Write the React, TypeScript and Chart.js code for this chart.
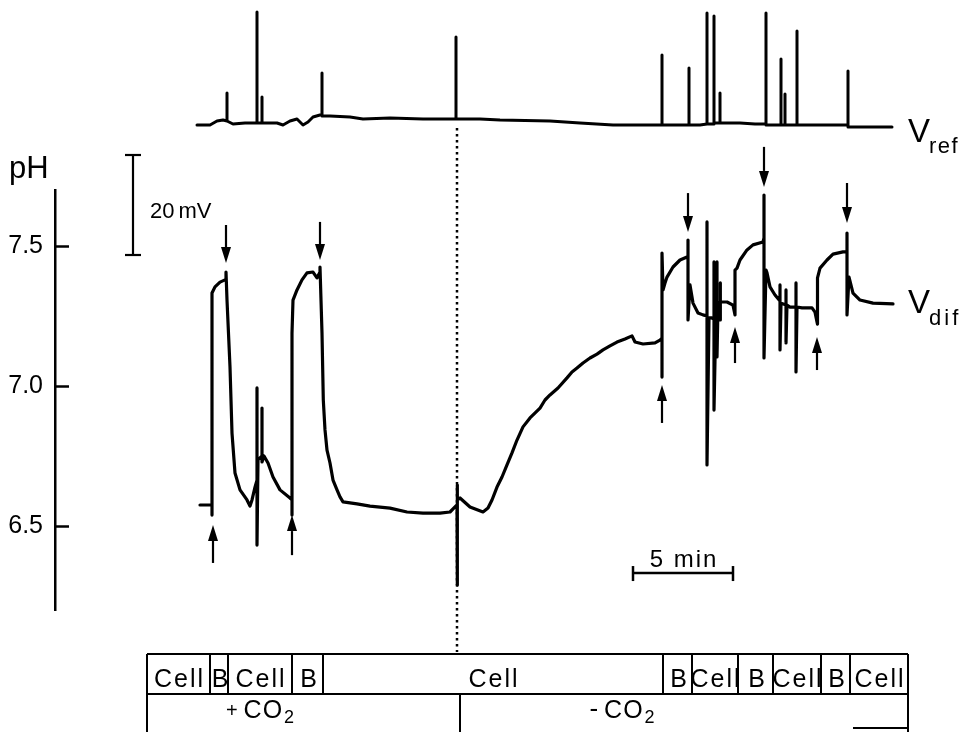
import React, { useEffect, useRef } from "react";
import { Chart, registerables } from "chart.js";

Chart.register(...registerables);

// ---- V_dif trace: time (min from start of record) and pH ----
const difTime = [
  0, 0.6, 0.6, 0.6, 0.75, 1, 1.25, 1.3, 1.3,
  1.35, 1.5, 1.6, 1.75, 2, 2.35, 2.5, 2.6, 2.75, 2.85, 2.85, 2.85, 2.9, 3.1, 3.1, 3.1, 3.2, 3.4, 3.65, 4, 4.5, 4.6,
  4.6, 4.6, 4.65, 4.85, 5.1, 5.35, 5.65, 5.85, 6, 6,
  6.1, 6.165, 6.25, 6.35, 6.5, 6.65, 6.85, 7.0, 7.15, 7.85, 8.5, 9.5, 10.35, 11.15, 12, 12.5, 12.75, 12.85, 12.85, 12.85, 12.9, 13,
  13.5, 14.15, 14.4, 14.6, 14.85, 15.1, 15.35, 15.6, 15.85, 16.15, 16.5, 17, 17.25, 17.5, 17.9, 18.35, 18.6, 18.85, 19.15, 19.5,
  19.85, 20.15, 20.5, 20.85, 21.25, 21.6, 21.75, 22.15, 22.75, 23, 23.1,
  23.1, 23.1, 23.15, 23.25, 23.35, 23.65, 24, 24.35, 24.4, 24.4, 24.4,
  24.5, 24.65, 24.9, 25.15, 25.35, 25.35, 25.35, 25.45, 25.6, 25.7, 25.7, 25.7, 25.8, 25.85, 25.85, 25.85, 25.9, 26, 26, 26, 26.05, 26.35, 26.65, 26.75,
  26.75, 26.85, 27, 27.35, 27.65, 28.15, 28.2, 28.2, 28.2,
  28.3, 28.35, 28.5, 28.75, 29, 29, 29, 29.05, 29.3, 29.3, 29.3, 29.35, 29.5, 29.8, 29.8, 29.8, 29.85, 30.1, 30.6, 30.75, 30.85,
  30.85, 30.9, 31, 31.35, 31.65, 32.15, 32.35, 32.35, 32.35, 32.45, 32.65, 33, 33.65, 34.65,
];
const difPH = [
  6.575, 6.575, 6.539, 7.332, 7.354, 7.371, 7.379, 7.379, 7.407,
  7.307, 7.068, 6.832, 6.689, 6.629, 6.593, 6.571, 6.593, 6.639, 6.664, 6.993, 6.432, 6.736, 6.75, 6.921, 6.729, 6.75, 6.725, 6.675, 6.629, 6.6, 6.593,
  6.539, 7.189, 7.307, 7.343, 7.379, 7.404, 7.407, 7.386, 7.407, 7.425,
  7.189, 6.95, 6.843, 6.771, 6.725, 6.664, 6.629, 6.604, 6.586, 6.579, 6.571, 6.564, 6.55, 6.546, 6.546, 6.55, 6.568, 6.575, 6.646, 6.289, 6.593, 6.6,
  6.568, 6.55, 6.564, 6.593, 6.639, 6.675, 6.718, 6.761, 6.807, 6.854, 6.886, 6.921, 6.95, 6.968, 6.993, 7.029, 7.05, 7.064, 7.082, 7.1,
  7.114, 7.129, 7.143, 7.157, 7.168, 7.179, 7.157, 7.15, 7.154, 7.164, 7.171,
  7.032, 7.475, 7.343, 7.368, 7.389, 7.425, 7.45, 7.461, 7.461, 7.521, 7.236,
  7.361, 7.296, 7.261, 7.254, 7.25, 7.586, 6.718, 7.243, 7.243, 7.236, 7.443, 6.914, 7.271, 7.279, 7.443, 7.104, 7.289, 7.3, 7.368, 7.236, 7.3, 7.3, 7.289, 7.254,
  7.414, 7.421, 7.45, 7.486, 7.504, 7.514, 7.529, 7.682, 7.1,
  7.414, 7.404, 7.354, 7.325, 7.304, 7.361, 7.129, 7.296, 7.289, 7.343, 7.154, 7.289, 7.282, 7.282, 7.368, 7.05, 7.282, 7.279, 7.279, 7.264, 7.229,
  7.221, 7.386, 7.421, 7.45, 7.471, 7.479, 7.479, 7.546, 7.254, 7.389, 7.332, 7.307, 7.296, 7.293,
];

// ---- V_ref trace: time (min) and mV relative to baseline ----
const refTime = [
  -0.15, 0.5, 0.85, 1.15, 1.35, 1.35, 1.35, 1.65, 2.25, 2.75,
  2.85, 2.85, 2.85, 3.1, 3.1, 3.1, 3.35, 3.85, 4.15, 4.5,
  4.85, 5.15, 5.4, 5.65, 6, 6.1, 6.1, 6.1, 6.5, 7.5,
  8.15, 9.5, 11.15, 12.65, 12.8, 12.8, 12.8, 14, 15, 17.5,
  19, 20.65, 22, 23.1, 23.1, 23.1, 24.45, 24.45, 24.45, 25,
  25.35, 25.35, 25.35, 25.7, 25.7, 25.7, 26, 26, 26, 27,
  27.75, 28.3, 28.3, 28.3, 29.05, 29.05, 29.05, 29.25, 29.25, 29.25,
  29.85, 29.85, 29.85, 31, 32.4, 32.4, 32.4, 33.5, 34.6,
];
const refMV = [
  0, 0, 0.8, 1, 0.8, 6.4, 0.8, 0.2, 0.4, 0.4,
  0.4, 22.6, 0.4, 0.4, 5.6, 0.4, 0.4, 0.4, 0, 0.8,
  1.2, 0, 0.6, 1.6, 2, 2, 10.4, 1.8, 1.8, 1.6,
  1.2, 1.4, 1.2, 1.2, 1.2, 17.6, 1.2, 1.2, 1, 0.8,
  0.4, 0, 0, 0, 14, 0, 0, 11.4, 0, 0,
  0.2, 22.4, 0.2, 0.2, 21.8, 0.4, 0.4, 6.4, 0.4, 0.4,
  0.2, 0.2, 22.4, 0, 0, 13.2, 0, 0, 6.2, 0,
  0, 18.8, 0, 0, 0, 10.8, -0.4, -0.4, -0.4,
];

// ---- axis / annotations ----
const pHTicks = [6.5, 7.0, 7.5];
const pHMin = 6.2;
const pHMax = 7.7;

const arrowDownTime = [1.3, 6.0, 24.4, 28.2, 32.35];
const arrowDownFrom = [7.575, 7.586, 7.689, 7.854, 7.725];
const arrowDownTo = [7.439, 7.45, 7.55, 7.711, 7.582];
const arrowUpTime = [0.65, 4.6, 23.1, 26.75, 30.85];
const arrowUpFrom = [6.368, 6.396, 6.868, 7.082, 7.057];
const arrowUpTo = [6.504, 6.539, 7.004, 7.211, 7.175];

const changeTime = 12.85; // dotted line: solution change
const changeFrom = 7.921;
const changeTo = 6.05;

const mvBarTime = -3.35;
const mvBarFrom = -26;
const mvBarSize = 20;
const minBarFrom = 21.65;
const minBarSize = 5;
const minBarPH = 6.332;

const segmentBounds = [-2.65, 0.5, 1.4, 4.6, 6.15, 23.15, 24.6, 26.9, 28.65, 31.05, 32.5, 35.4];
const segmentLabels = ["Cell", "B", "Cell", "B", "Cell", "B", "Cell", "B", "Cell", "B", "Cell"];
const co2Split = 13.0;
const co2Signs = ["+", "-"];
const co2LabelTime = [3.0, 21.1];
const traceEndTime = 35.4;

const FONT = '"Liberation Sans", Arial, sans-serif';

function setFont(ctx: CanvasRenderingContext2D, size: number, spacing = 0) {
  ctx.font = `${size}px ${FONT}`;
  (ctx as any).letterSpacing = `${spacing}px`;
}

function txt(ctx: CanvasRenderingContext2D, s: string, x: number, y: number, size: number, align: CanvasTextAlign = "left", spacing = 0) {
  setFont(ctx, size, spacing);
  ctx.textAlign = align;
  ctx.textBaseline = "alphabetic";
  ctx.fillText(s, x, y);
  (ctx as any).letterSpacing = "0px";
}

function width(ctx: CanvasRenderingContext2D, s: string, size: number, spacing = 0) {
  setFont(ctx, size, spacing);
  const w = ctx.measureText(s).width;
  (ctx as any).letterSpacing = "0px";
  return w;
}

function seg(ctx: CanvasRenderingContext2D, x1: number, y1: number, x2: number, y2: number) {
  ctx.beginPath();
  ctx.moveTo(x1, y1);
  ctx.lineTo(x2, y2);
  ctx.stroke();
}

const decorations = {
  id: "decorations",
  afterDraw(chart: any) {
    const ctx: CanvasRenderingContext2D = chart.ctx;
    const xs = chart.scales.x;
    const ys = chart.scales.y;
    const yr = chart.scales.yRef;
    ctx.save();
    ctx.strokeStyle = "#000";
    ctx.fillStyle = "#000";
    ctx.lineCap = "butt";

    // inward tick marks of the pH axis
    ctx.lineWidth = 2.5;
    const ax = ys.right;
    for (const v of pHTicks) {
      const py = Math.round(ys.getPixelForValue(v)) + 0.5;
      seg(ctx, ax, py, ax + 14, py);
    }
    // axis title
    txt(ctx, "pH", 9, 178, 31);

    // 20 mV scale bar
    ctx.lineWidth = 2.2;
    const bx = xs.getPixelForValue(mvBarTime);
    const b1 = yr.getPixelForValue(mvBarFrom);
    const b2 = yr.getPixelForValue(mvBarFrom + mvBarSize);
    seg(ctx, bx, b1, bx, b2);
    seg(ctx, bx - 8, b1, bx + 8, b1);
    seg(ctx, bx - 8, b2, bx + 8, b2);
    txt(ctx, "20", bx + 17, 218, 22);
    txt(ctx, "mV", bx + 17 + width(ctx, "20", 22) + 4, 218, 22);

    // arrows
    const arrow = (t: number, from: number, to: number) => {
      const x = xs.getPixelForValue(t);
      const yTail = ys.getPixelForValue(from);
      const yTip = ys.getPixelForValue(to);
      const dir = Math.sign(yTip - yTail);
      const headLen = 16;
      const headW = 5;
      ctx.lineWidth = 2.2;
      seg(ctx, x, yTail, x, yTip - dir * headLen);
      ctx.beginPath();
      ctx.moveTo(x, yTip);
      ctx.lineTo(x - headW, yTip - dir * headLen);
      ctx.lineTo(x + headW, yTip - dir * headLen);
      ctx.closePath();
      ctx.fill();
    };
    arrowDownTime.forEach((t, i) => arrow(t, arrowDownFrom[i], arrowDownTo[i]));
    arrowUpTime.forEach((t, i) => arrow(t, arrowUpFrom[i], arrowUpTo[i]));

    // trace labels
    const lx = xs.getPixelForValue(traceEndTime);
    const refBase = yr.getPixelForValue(0) + 17;
    txt(ctx, "V", lx, refBase, 33);
    txt(ctx, "ref", lx + width(ctx, "V", 33) - 1, refBase + 11, 22, "left", 1.5);
    const difBase = ys.getPixelForValue(difPH[difPH.length - 1]) + 9;
    txt(ctx, "V", lx, difBase, 33);
    txt(ctx, "dif", lx + width(ctx, "V", 33) - 1, difBase + 12, 22, "left", 3);

    // 5 min scale bar
    ctx.lineWidth = 2.5;
    const m1 = xs.getPixelForValue(minBarFrom);
    const m2 = xs.getPixelForValue(minBarFrom + minBarSize);
    const my = ys.getPixelForValue(minBarPH);
    seg(ctx, m1, my, m2, my);
    seg(ctx, m1, my - 7, m1, my + 8);
    seg(ctx, m2, my - 7, m2, my + 8);
    txt(ctx, "5 min", (m1 + m2) / 2 + 1, my - 6, 24, "center", 2);

    // protocol table
    const top = 654;
    const mid = 694;
    const bottom = 732;
    ctx.lineWidth = 2;
    const tx0 = xs.getPixelForValue(segmentBounds[0]);
    const tx1 = xs.getPixelForValue(segmentBounds[segmentBounds.length - 1]);
    seg(ctx, tx0, top, tx1, top);
    seg(ctx, tx0, mid, tx1, mid);
    segmentBounds.forEach((t) => {
      const x = xs.getPixelForValue(t);
      seg(ctx, x, top, x, mid);
    });
    seg(ctx, tx0, mid, tx0, bottom);
    seg(ctx, tx1, mid, tx1, bottom);
    const sx = xs.getPixelForValue(co2Split);
    seg(ctx, sx, mid, sx, bottom);
    seg(ctx, tx1 - 55, bottom - 4, tx1, bottom - 4);
    segmentLabels.forEach((s, i) => {
      const c = (xs.getPixelForValue(segmentBounds[i]) + xs.getPixelForValue(segmentBounds[i + 1])) / 2;
      txt(ctx, s, c + 1, 687, 25, "center", s === "Cell" ? 2 : 0);
    });
    co2Signs.forEach((sign, i) => {
      const c = xs.getPixelForValue(co2LabelTime[i]);
      const signSize = sign === "+" ? 20 : 26;
      const gap = 6;
      const wS = width(ctx, sign, signSize);
      const wC = width(ctx, "CO", 25, 1);
      const w2 = width(ctx, "2", 18);
      const total = wS + gap + wC + 1 + w2;
      let x = c - total / 2;
      const base = 718;
      txt(ctx, sign, x, base - 1, signSize);
      x += wS + gap;
      txt(ctx, "CO", x, base, 25, "left", 1);
      x += wC + 1;
      txt(ctx, "2", x, base + 5, 18);
    });

    ctx.restore();
  },
};

export default function App() {
  const ref = useRef<HTMLCanvasElement>(null);
  useEffect(() => {
    document.body.style.margin = "0";
    const canvas = ref.current;
    if (!canvas) return;
    const lineStyle = {
      borderColor: "#000",
      backgroundColor: "#000",
      pointRadius: 0,
      tension: 0,
      fill: false,
      clip: false as any,
      borderJoinStyle: "round" as const,
      borderCapStyle: "round" as const,
    };
    const chart = new Chart(canvas, {
      type: "line",
      data: {
        datasets: [
          {
            label: "V_dif",
            data: difTime.map((t, i) => ({ x: t, y: difPH[i] })),
            yAxisID: "y",
            borderWidth: 3.2,
            ...lineStyle,
          },
          {
            label: "V_ref",
            data: refTime.map((t, i) => ({ x: t, y: refMV[i] })),
            yAxisID: "yRef",
            borderWidth: 3,
            ...lineStyle,
          },
          {
            label: "change",
            data: [
              { x: changeTime, y: changeFrom },
              { x: changeTime, y: changeTo },
            ],
            yAxisID: "y",
            borderWidth: 2.5,
            borderDash: [2.5, 3.5],
            ...lineStyle,
            borderCapStyle: "butt" as const,
          },
        ],
      },
      options: {
        responsive: false,
        devicePixelRatio: 1,
        animation: false,
        events: [],
        layout: { padding: { top: 190, bottom: 122, left: 0, right: 0 } },
        plugins: {
          legend: { display: false },
          tooltip: { enabled: false },
        },
        scales: {
          x: { type: "linear", display: false, min: -7.25, max: 38.1 },
          y: {
            type: "linear",
            position: "left",
            min: pHMin,
            max: pHMax,
            afterBuildTicks: (s: any) => {
              s.ticks = pHTicks.map((v) => ({ value: v }));
            },
            afterFit: (s: any) => {
              s.width = 55;
            },
            ticks: {
              callback: (v: any) => Number(v).toFixed(1),
              padding: 12,
              color: "#000",
              font: { family: FONT, size: 25 },
            },
            grid: { display: false, drawTicks: false },
            border: { display: true, color: "#000", width: 2.5 },
          },
          yRef: { type: "linear", display: false, min: -97, max: -13 },
        },
      },
      plugins: [decorations],
    });
    return () => chart.destroy();
  }, []);
  return (
    <div style={{ width: 962, height: 732, overflow: "hidden", background: "#fff" }}>
      <canvas ref={ref} width={962} height={732} style={{ display: "block", width: 962, height: 732 }} />
    </div>
  );
}
